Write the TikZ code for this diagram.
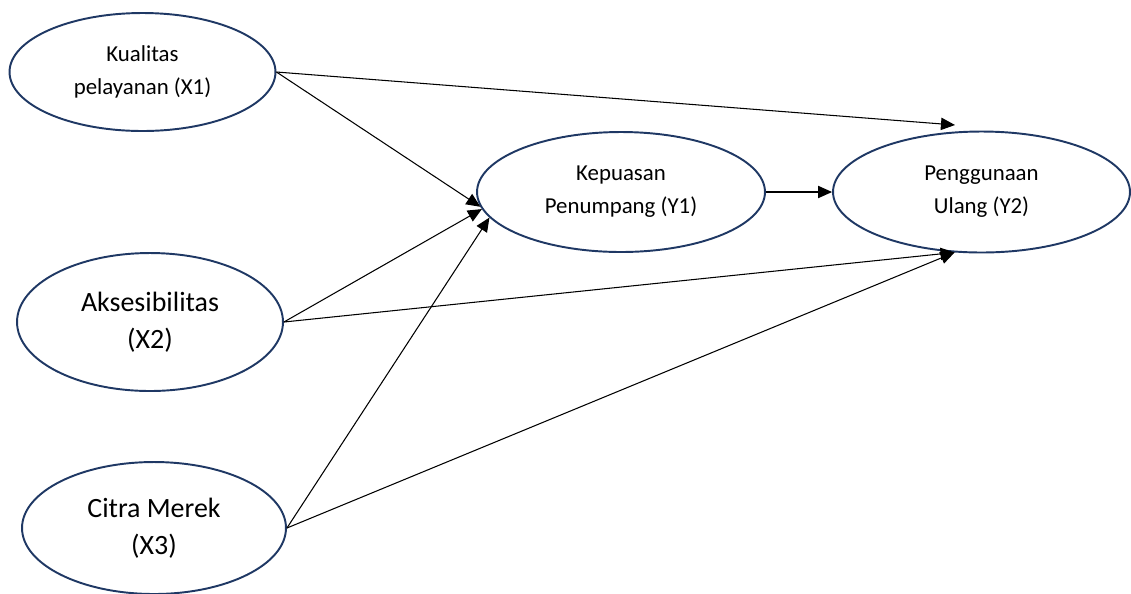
\documentclass[tikz,border=0pt]{standalone}
\usepackage{fontspec}
\setmainfont{Carlito}
\usetikzlibrary{shapes.geometric,arrows.meta}
\definecolor{varline}{HTML}{1F3864}

\begin{document}
\begin{tikzpicture}[x=0.02cm,y=-0.02cm,
  latent/.style={ellipse,draw=varline,line width=1.1pt,inner sep=0pt,align=center},
  small/.style={font=\fontsize{13}{18.7}\selectfont},
  big/.style={font=\fontsize{15.9}{21}\selectfont},
  lnk/.style={draw=black,line width=0.6pt,-{Triangle[length=8pt,width=7pt]}}]
  \useasboundingbox (0,0) rectangle (1131,593);

  % X1, X2, X3
  \node[latent,small,minimum width=5.32cm,minimum height=2.36cm] (x1) at (142.5,72) {Kualitas\\pelayanan (X1)};
  \node[latent,big,minimum width=5.32cm,minimum height=2.76cm] (x2) at (150,322) {Aksesibilitas\\(X2)};
  \node[latent,big,minimum width=5.28cm,minimum height=2.64cm] (x3) at (154,528) {Citra Merek\\(X3)};

  % Y1, Y2
  \node[latent,small,minimum width=5.76cm,minimum height=2.4cm] (y1) at (621,192) {Kepuasan\\Penumpang (Y1)};
  \node[latent,small,minimum width=5.94cm,minimum height=2.42cm] (y2) at (981.5,192) {Penggunaan\\Ulang (Y2)};
  \coordinate (y2top) at (955,125);

  % paths
  \draw[lnk] (x1.east) -- (y1.186);
  \draw[lnk] (x1.east) -- (y2top);
  \draw[lnk] (x2.east) -- (y1.187);
  \draw[lnk] (x2.east) -- (y2.246);
  \draw[lnk] (x3.east) -- (y1.191);
  \draw[lnk] (x3.east) -- (y2.246);
  \draw[lnk] (y1.east) -- (y2.west);
\end{tikzpicture}
\end{document}
